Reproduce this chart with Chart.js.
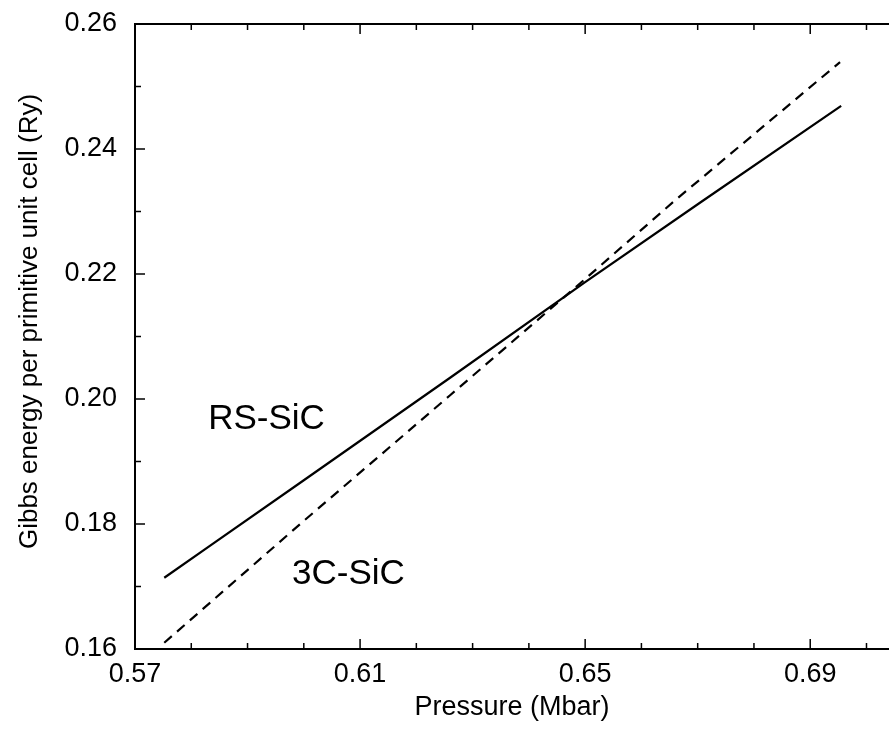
<!DOCTYPE html>
<html>
<head>
<meta charset="utf-8">
<script src="https://cdn.jsdelivr.net/npm/chart.js@4.4.1/dist/chart.umd.min.js"></script>
<style>
  html, body { margin: 0; padding: 0; background: #fff; }
  canvas { display: block; }
</style>
</head>
<body>
<canvas id="gibbsChart" width="889" height="729"></canvas>
<script>
// values (pressure in Mbar, energy in Ry)
const rsPressure = [0.5752, 0.5833, 0.6000, 0.6260, 0.6500, 0.6704, 0.6955];
const rsEnergy   = [0.1714, 0.1765, 0.1870, 0.2034, 0.2187, 0.2314, 0.2469];
const c3Pressure = [0.5752, 0.6000, 0.6260, 0.6500, 0.6660, 0.6953];
const c3Energy   = [0.1610, 0.1805, 0.2006, 0.2192, 0.2318, 0.2539];

const xTickLabels = [0.57, 0.61, 0.65, 0.69];
const yTickLabels = [0.16, 0.18, 0.20, 0.22, 0.24, 0.26];

const seriesNames = ["RS-SiC", "3C-SiC"];
const seriesLabelAt = [[0.583, 0.1952], [0.5979, 0.1704]];

const FONT = "'Liberation Sans', Arial, Helvetica, sans-serif";

const toPoints = (xs, ys) => xs.map((x, i) => ({ x, y: ys[i] }));

const frame = {
  id: "frame",
  afterDraw(chart) {
    const { ctx, chartArea: a, scales } = chart;
    const x = scales.x, y = scales.y;
    ctx.save();
    ctx.strokeStyle = "#000";
    ctx.lineWidth = 2;
    // top border
    ctx.beginPath();
    ctx.moveTo(a.left, a.top);
    ctx.lineTo(a.right, a.top);
    ctx.stroke();

    // inward ticks
    ctx.lineWidth = 1.5;
    for (let i = 57; i <= 70; i++) {
      const px = x.getPixelForValue(i / 100);
      const len = (i - 57) % 4 === 0 ? 10 : 6;
      ctx.beginPath();
      ctx.moveTo(px, a.bottom); ctx.lineTo(px, a.bottom - len);
      ctx.moveTo(px, a.top); ctx.lineTo(px, a.top + len);
      ctx.stroke();
    }
    for (let i = 16; i <= 26; i++) {
      const py = y.getPixelForValue(i / 100);
      const len = i % 2 === 0 ? 10 : 6;
      ctx.beginPath();
      ctx.moveTo(a.left, py); ctx.lineTo(a.left + len, py);
      ctx.stroke();
    }

    // curve labels
    ctx.fillStyle = "#000";
    ctx.font = "35px " + FONT;
    ctx.textAlign = "left";
    ctx.textBaseline = "alphabetic";
    seriesNames.forEach((name, i) => {
      const [p, g] = seriesLabelAt[i];
      ctx.fillText(name, x.getPixelForValue(p), y.getPixelForValue(g));
    });

    // y axis title
    ctx.font = "26px " + FONT;
    ctx.textAlign = "center";
    ctx.textBaseline = "middle";
    ctx.translate(30, (a.top + a.bottom) / 2 - 15);
    ctx.rotate(-Math.PI / 2);
    ctx.fillText("Gibbs energy per primitive unit cell (Ry)", 0, 0);
    ctx.restore();
  }
};

new Chart(document.getElementById("gibbsChart"), {
  type: "line",
  data: {
    datasets: [{
      label: seriesNames[0],
      data: toPoints(rsPressure, rsEnergy),
      borderColor: "#000",
      borderWidth: 2.2,
      pointRadius: 0,
      tension: 0
    }, {
      label: seriesNames[1],
      data: toPoints(c3Pressure, c3Energy),
      borderColor: "#000",
      borderWidth: 2.2,
      borderDash: [10, 7],
      pointRadius: 0,
      tension: 0
    }]
  },
  options: {
    responsive: false,
    animation: false,
    layout: { padding: { top: 24, right: 0, bottom: 0, left: 0 } },
    plugins: {
      legend: { display: false },
      tooltip: { enabled: false }
    },
    scales: {
      x: {
        type: "linear",
        min: 0.57,
        max: 0.704,
        afterBuildTicks: s => { s.ticks = xTickLabels.map(v => ({ value: v })); },
        afterFit: s => { s.height = 80; s.paddingLeft = 0; s.paddingRight = 0; },
        border: { display: true, color: "#000", width: 2 },
        grid: { display: false, drawTicks: false },
        ticks: {
          color: "#000",
          padding: 9,
          maxRotation: 0,
          font: { family: FONT, size: 27 },
          callback: v => v.toFixed(2)
        },
        title: {
          display: true,
          text: "Pressure (Mbar)",
          color: "#000",
          font: { family: FONT, size: 27 },
          padding: { top: 0, bottom: 5 }
        }
      },
      y: {
        type: "linear",
        min: 0.16,
        max: 0.26,
        afterBuildTicks: s => { s.ticks = yTickLabels.map(v => ({ value: v })); },
        afterFit: s => { s.width = 135; s.paddingTop = 0; s.paddingBottom = 0; },
        border: { display: true, color: "#000", width: 2 },
        grid: { display: false, drawTicks: false },
        ticks: {
          color: "#000",
          padding: 18,
          font: { family: FONT, size: 27 },
          callback: v => v.toFixed(2)
        }
      }
    }
  },
  plugins: [frame]
});
</script>
</body>
</html>
